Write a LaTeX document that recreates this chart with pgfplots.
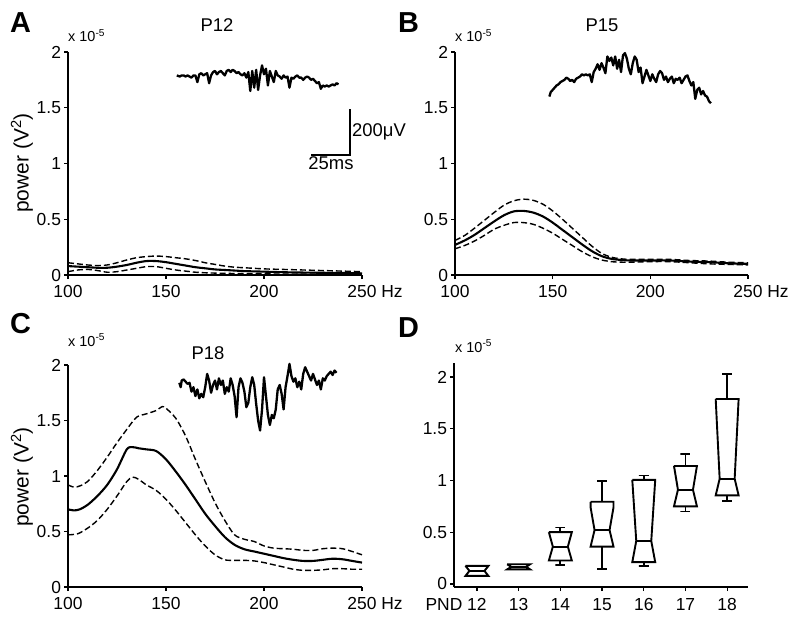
\documentclass[border=0pt]{standalone}
\usepackage{pgfplots}
\pgfplotsset{compat=1.18}
\usepackage{fontspec}
\setmainfont{Liberation Sans}

\begin{document}
\begin{tikzpicture}[x=1bp,y=1bp]
\useasboundingbox (0,0) rectangle (793,-619);
\pgfplotsset{
  panel/.style={scale only axis, width=294bp, height=223bp,
    axis x line*=bottom, axis y line*=left,
    axis line style={line width=1.7bp, -},
    tick style={line width=1.3bp, black}, major tick length=4bp, tick align=outside,
    xmin=100, xmax=250, ymin=0, ymax=2,
    xtick={100,150,200,250}, xticklabels={100,150,200,250\rlap{ Hz}},
    ytick={0,0.5,1,1.5,2}, yticklabels={0,0.5,1,1.5,2},
    tick label style={font=\fontsize{17.5}{19}\selectfont},
    xticklabel style={yshift=-2.5bp},
    yticklabel style={xshift=0.5bp},
    /pgf/number format/assume math mode=true, clip=false},
  meanl/.style={black, line width=2.1bp, smooth},
  sel/.style={black, line width=1.4bp, dash pattern=on 6bp off 3bp, smooth},
  trace/.style={black, line width=2.3bp, line join=round},
  bx/.style={black, line width=1.9bp, line join=miter},
}
\newcommand{\ttl}{\fontsize{18.5}{20}\selectfont}
\newcommand{\sml}{\fontsize{14.5}{16}\selectfont}
\newcommand{\lett}{\fontsize{29}{31}\selectfont\bfseries}
\newcommand{\ylab}{\fontsize{21}{23}\selectfont}

% ---------------- A ----------------
\begin{axis}[panel, at={(68bp,-275bp)}, anchor=south west]
\addplot[sel] coordinates {(100,0.11)(105,0.10)(110,0.09)(115,0.085)(120,0.09)(125,0.11)(130,0.135)(135,0.155)(140,0.165)(145,0.17)(150,0.165)(155,0.155)(160,0.145)(165,0.13)(170,0.11)(175,0.095)(180,0.08)(185,0.07)(190,0.065)(200,0.055)(210,0.05)(220,0.045)(230,0.04)(240,0.035)(250,0.03)};
\addplot[meanl] coordinates {(100,0.08)(105,0.075)(110,0.07)(115,0.065)(120,0.065)(125,0.075)(130,0.09)(135,0.11)(140,0.125)(145,0.125)(150,0.115)(155,0.10)(160,0.085)(165,0.07)(170,0.06)(175,0.05)(180,0.045)(185,0.04)(190,0.035)(200,0.03)(210,0.025)(220,0.022)(230,0.02)(240,0.018)(250,0.015)};
\addplot[sel] coordinates {(100,0.03)(105,0.045)(110,0.05)(115,0.04)(120,0.025)(125,0.03)(130,0.045)(135,0.06)(140,0.075)(145,0.075)(150,0.06)(155,0.045)(160,0.035)(165,0.025)(170,0.02)(180,0.015)(190,0.012)(200,0.01)(220,0.008)(250,0.005)};
\addplot[trace] coordinates {(155.5,1.79)(157,1.78)(158,1.79)(159,1.79)(160,1.78)(161,1.79)(162,1.78)(163,1.77)(164,1.79)(165,1.79)(166,1.73)(167,1.80)(168,1.81)(169,1.79)(170,1.80)(171,1.81)(172,1.72)(173,1.79)(174,1.82)(175,1.83)(176,1.80)(177,1.82)(178,1.83)(179,1.81)(180,1.79)(181,1.83)(182,1.84)(183,1.82)(184,1.84)(185,1.83)(186,1.81)(187,1.82)(188,1.80)(189,1.79)(190,1.81)(191,1.77)(192,1.82)(193,1.65)(194,1.83)(195,1.68)(196,1.84)(197,1.66)(198,1.79)(199,1.88)(200,1.80)(201,1.85)(202,1.70)(203,1.83)(204,1.78)(205,1.73)(206,1.83)(207,1.79)(208,1.78)(209,1.76)(210,1.79)(211,1.77)(212,1.78)(213,1.68)(214,1.77)(215,1.76)(216,1.78)(217,1.79)(218,1.77)(219,1.77)(220,1.75)(221,1.77)(222,1.78)(223,1.77)(224,1.75)(225,1.76)(226,1.74)(227,1.72)(228,1.73)(229,1.67)(230,1.70)(231,1.69)(232,1.70)(233,1.69)(234,1.70)(235,1.71)(236,1.70)(237,1.72)(238,1.71)};
\addplot[black, line width=1.9bp] coordinates {(224,1.076)(243.9,1.076)(243.9,1.489)};
\end{axis}

% ---------------- B ----------------
\begin{axis}[panel, at={(455bp,-275bp)}, anchor=south west, width=293bp]
\addplot[sel] coordinates {(100,0.31)(105,0.355)(110,0.42)(115,0.49)(120,0.56)(125,0.625)(130,0.665)(135,0.68)(140,0.67)(145,0.635)(150,0.575)(155,0.50)(160,0.42)(165,0.34)(170,0.26)(175,0.195)(180,0.16)(185,0.145)(190,0.14)(200,0.14)(210,0.14)(220,0.13)(230,0.125)(240,0.115)(250,0.11)};
\addplot[meanl] coordinates {(100,0.27)(105,0.31)(110,0.36)(115,0.42)(120,0.48)(125,0.535)(130,0.57)(135,0.575)(140,0.56)(145,0.525)(150,0.47)(155,0.405)(160,0.34)(165,0.275)(170,0.215)(175,0.17)(180,0.145)(185,0.135)(190,0.13)(200,0.13)(210,0.13)(220,0.12)(230,0.115)(240,0.105)(250,0.10)};
\addplot[sel] coordinates {(100,0.235)(105,0.265)(110,0.305)(115,0.355)(120,0.41)(125,0.445)(130,0.47)(135,0.47)(140,0.455)(145,0.42)(150,0.375)(155,0.32)(160,0.265)(165,0.21)(170,0.165)(175,0.135)(180,0.12)(185,0.115)(190,0.115)(200,0.12)(210,0.12)(220,0.11)(230,0.10)(240,0.095)(250,0.09)};
\addplot[trace] coordinates {(148.3,1.60)(149,1.64)(150,1.66)(151,1.68)(152,1.70)(153,1.71)(154,1.73)(155,1.74)(156,1.75)(157,1.77)(158,1.76)(159,1.74)(160,1.75)(161,1.73)(162,1.76)(163,1.77)(164,1.78)(165,1.80)(166,1.79)(167,1.80)(168,1.79)(169,1.80)(170,1.73)(171,1.82)(172,1.85)(173,1.89)(174,1.84)(175,1.90)(176,1.86)(177,1.81)(178,1.96)(179,1.92)(180,1.95)(181,1.88)(182,1.96)(183,1.85)(184,1.93)(185,1.82)(186,1.97)(187,1.99)(188,1.94)(189,1.85)(190,1.80)(191,1.90)(192,1.96)(193,1.93)(194,1.82)(195,1.86)(196,1.72)(197,1.78)(198,1.84)(199,1.79)(200,1.74)(201,1.80)(202,1.76)(203,1.73)(204,1.80)(205,1.83)(206,1.81)(207,1.75)(208,1.78)(209,1.73)(210,1.76)(211,1.78)(212,1.72)(213,1.76)(214,1.75)(215,1.77)(216,1.72)(217,1.75)(218,1.78)(219,1.79)(220,1.74)(221,1.70)(222,1.73)(223,1.58)(224,1.66)(225,1.68)(226,1.62)(227,1.65)(228,1.61)(229,1.60)(230,1.56)(231,1.54)};
\end{axis}

% ---------------- C ----------------
\begin{axis}[panel, at={(68bp,-587bp)}, anchor=south west, height=222bp]
\addplot[sel] coordinates {(100,0.92)(103,0.90)(106,0.91)(110,0.95)(115,1.05)(120,1.17)(125,1.30)(130,1.42)(135,1.53)(140,1.56)(145,1.59)(148,1.625)(150,1.61)(155,1.52)(160,1.36)(165,1.15)(170,0.95)(175,0.76)(180,0.60)(185,0.47)(190,0.43)(195,0.41)(200,0.37)(205,0.35)(210,0.345)(215,0.34)(220,0.33)(225,0.33)(230,0.345)(235,0.35)(240,0.345)(245,0.32)(250,0.29)};
\addplot[meanl] coordinates {(100,0.70)(103,0.69)(106,0.70)(110,0.74)(115,0.82)(120,0.92)(125,1.06)(130,1.24)(133,1.26)(136,1.25)(140,1.24)(145,1.225)(150,1.15)(155,1.04)(160,0.92)(165,0.79)(170,0.66)(175,0.55)(180,0.45)(185,0.38)(190,0.34)(195,0.32)(200,0.30)(205,0.28)(210,0.26)(215,0.245)(220,0.235)(225,0.235)(230,0.245)(235,0.255)(240,0.25)(245,0.235)(250,0.22)};
\addplot[sel] coordinates {(100,0.47)(105,0.48)(110,0.53)(115,0.60)(120,0.70)(125,0.82)(130,0.95)(133,0.99)(136,0.97)(140,0.92)(145,0.87)(150,0.79)(155,0.69)(160,0.58)(165,0.47)(170,0.37)(175,0.29)(180,0.245)(185,0.24)(190,0.24)(195,0.235)(200,0.22)(205,0.20)(210,0.18)(215,0.16)(220,0.15)(225,0.15)(230,0.155)(235,0.165)(240,0.165)(245,0.16)(250,0.16)};
\addplot[trace] coordinates {(156.8,1.84)(157.5,1.80)(158,1.86)(159,1.87)(160,1.85)(161,1.83)(162,1.84)(163,1.76)(164,1.80)(165,1.72)(166,1.78)(167,1.70)(168,1.74)(169,1.71)(170,1.80)(171,1.92)(172,1.86)(173,1.75)(174,1.82)(175,1.86)(176,1.78)(177,1.88)(178,1.82)(179,1.86)(180,1.74)(181,1.80)(182,1.76)(183,1.88)(184,1.82)(185,1.72)(186,1.53)(187,1.80)(188,1.88)(189,1.84)(190,1.76)(191,1.62)(192,1.66)(193,1.80)(194,1.89)(195,1.82)(196,1.65)(197,1.50)(198,1.41)(199,1.60)(200,1.89)(201,1.72)(202,1.55)(203,1.46)(204,1.55)(205,1.52)(206,1.60)(207,1.78)(208,1.82)(209,1.74)(210,1.60)(211,1.80)(212,1.90)(213,2.01)(214,1.90)(215,1.85)(216,1.88)(217,1.80)(218,1.85)(219,1.78)(220,1.92)(221,1.98)(222,1.94)(223,1.90)(224,1.86)(225,1.92)(226,1.87)(227,1.82)(228,1.86)(229,1.78)(230,1.88)(231,1.86)(232,1.90)(233,1.92)(234,1.94)(235,1.91)(236,1.95)(237,1.93)};
\end{axis}

% ---------------- D ----------------
\begin{axis}[panel, at={(454bp,-587bp)}, anchor=south west, width=294bp, height=224bp,
  xmin=11.45, xmax=18.5, ymin=-0.03, ymax=2.135,
  xtick={12,13,14,15,16,17,18}, xticklabels={\llap{PND }12,13,14,15,16,17,18},
  xticklabel style={yshift=-1bp}]
% PND 12
\addplot[bx] coordinates {(11.725,0.174)(11.82,0.126)(11.725,0.077)(12.275,0.077)(12.18,0.126)(12.275,0.174)(11.725,0.174)};
\addplot[bx] coordinates {(11.82,0.126)(12.18,0.126)};
% PND 13
\addplot[bx] coordinates {(12.725,0.19)(12.82,0.165)(12.725,0.14)(13.275,0.14)(13.18,0.165)(13.275,0.19)(12.725,0.19)};
\addplot[bx] coordinates {(12.82,0.165)(13.18,0.165)};
% PND 14
\addplot[bx] coordinates {(13.725,0.50)(13.82,0.36)(13.725,0.226)(14.275,0.226)(14.18,0.36)(14.275,0.50)(13.725,0.50)};
\addplot[bx] coordinates {(13.82,0.36)(14.18,0.36)};
\addplot[bx] coordinates {(14,0.50)(14,0.545)(13.88,0.545)(14.12,0.545)};
\addplot[bx] coordinates {(14,0.226)(14,0.184)(13.88,0.184)(14.12,0.184)};
% PND 15
\addplot[bx] coordinates {(14.725,0.794)(14.725,0.74)(14.82,0.52)(14.725,0.36)(15.275,0.36)(15.18,0.52)(15.275,0.74)(15.275,0.794)(14.725,0.794)};
\addplot[bx] coordinates {(14.82,0.52)(15.18,0.52)};
\addplot[bx] coordinates {(15,0.794)(15,0.997)(14.88,0.997)(15.12,0.997)};
\addplot[bx] coordinates {(15,0.36)(15,0.148)(14.88,0.148)(15.12,0.148)};
% PND 16
\addplot[bx] coordinates {(15.725,1.006)(15.82,0.415)(15.725,0.21)(16.275,0.21)(16.18,0.415)(16.275,1.006)(15.725,1.006)};
\addplot[bx] coordinates {(15.82,0.415)(16.18,0.415)};
\addplot[bx] coordinates {(16,1.006)(16,1.048)(15.88,1.048)(16.12,1.048)};
\addplot[bx] coordinates {(16,0.21)(16,0.174)(15.88,0.174)(16.12,0.174)};
% PND 17
\addplot[bx] coordinates {(16.725,1.14)(16.82,0.91)(16.725,0.75)(17.275,0.75)(17.18,0.91)(17.275,1.14)(16.725,1.14)};
\addplot[bx] coordinates {(16.82,0.91)(17.18,0.91)};
\addplot[bx] coordinates {(17,1.14)(17,1.255)(16.88,1.255)(17.12,1.255)};
\addplot[bx] coordinates {(17,0.75)(17,0.70)(16.88,0.70)(17.12,0.70)};
% PND 18
\addplot[bx] coordinates {(17.725,1.787)(17.82,1.016)(17.725,0.855)(18.275,0.855)(18.18,1.016)(18.275,1.787)(17.725,1.787)};
\addplot[bx] coordinates {(17.82,1.016)(18.18,1.016)};
\addplot[bx] coordinates {(18,1.787)(18,2.03)(17.88,2.03)(18.12,2.03)};
\addplot[bx] coordinates {(18,0.855)(18,0.80)(17.88,0.80)(18.12,0.80)};
\end{axis}

% ---------------- annotations ----------------
\node[anchor=base west, inner sep=0] at (10bp,-33bp) {\lett A};
\node[anchor=base west, inner sep=0] at (398bp,-33bp) {\lett B};
\node[anchor=base west, inner sep=0] at (10bp,-333bp) {\lett C};
\node[anchor=base west, inner sep=0] at (398bp,-337bp) {\lett D};

\node[anchor=base, inner sep=0] at (217bp,-32bp) {\ttl P12};
\node[anchor=base, inner sep=0] at (602bp,-32bp) {\ttl P15};
\node[anchor=base, inner sep=0] at (208bp,-359bp) {\ttl P18};

\node[anchor=base west, inner sep=0] at (68bp,-42bp) {\sml x 10\textsuperscript{-5}};
\node[anchor=base west, inner sep=0] at (455bp,-42bp) {\sml x 10\textsuperscript{-5}};
\node[anchor=base west, inner sep=0] at (68bp,-346bp) {\sml x 10\textsuperscript{-5}};
\node[anchor=base west, inner sep=0] at (455bp,-352bp) {\sml x 10\textsuperscript{-5}};

\node[rotate=90, inner sep=0] at (22bp,-163bp) {\ylab power (V\textsuperscript{2})};
\node[rotate=90, inner sep=0] at (22bp,-477bp) {\ylab power (V\textsuperscript{2})};

\node[anchor=base west, inner sep=0] at (352bp,-136bp) {\ttl 200μV};
\node[anchor=base, inner sep=0] at (331bp,-169bp) {\ttl 25ms};
\end{tikzpicture}
\end{document}
